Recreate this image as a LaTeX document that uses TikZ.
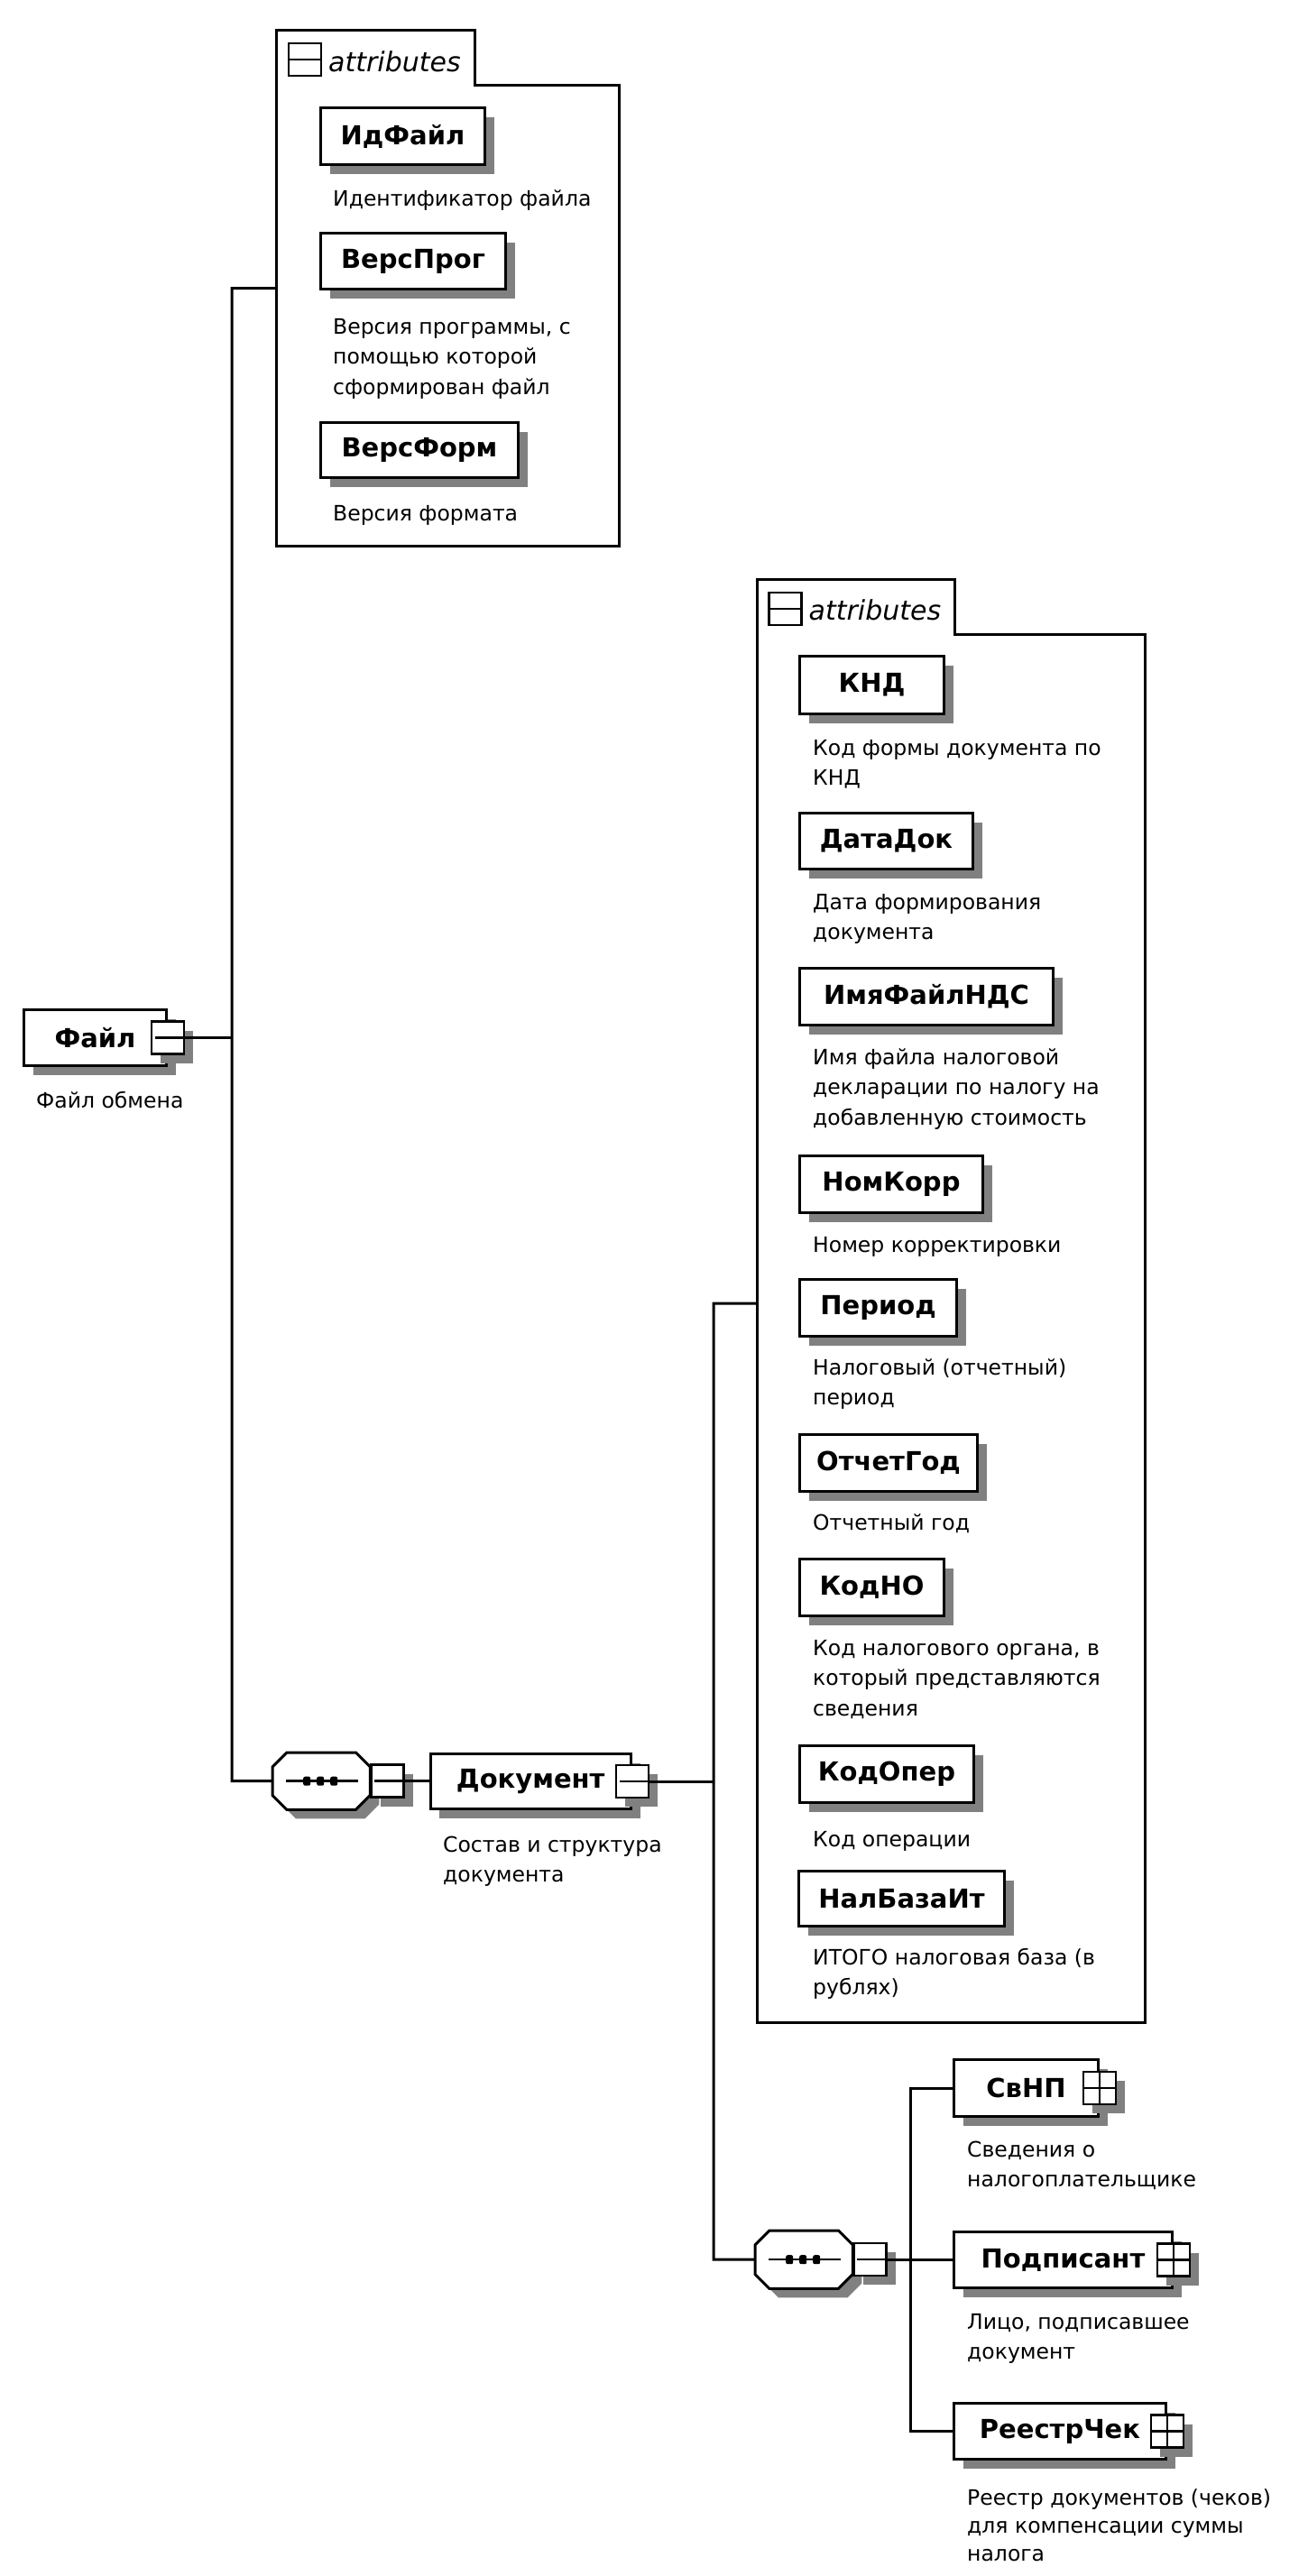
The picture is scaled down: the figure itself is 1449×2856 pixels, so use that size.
\documentclass[tikz,border=0pt]{standalone}
\usepackage{fontspec}
\setmainfont{DejaVu Sans}
\usetikzlibrary{shadows,calc}
\newcommand\nmfont{\fontsize{29}{34}\selectfont\bfseries}
\newcommand\dsfont{\fontsize{23.5}{33.6}\selectfont}
\newcommand\atfont{\fontsize{30}{34}\selectfont\itshape}
\tikzset{
  shad/.style={drop shadow={shadow xshift=10pt,shadow yshift=-10pt,fill=black!50,opacity=1}},
  elem/.style={draw, line width=3pt, fill=white, inner sep=0pt, anchor=north west, shad, font=\nmfont},
  sqbox/.style={draw, line width=2.5pt, fill=white, minimum size=36pt, inner sep=0pt, shad},
  icbox/.style={draw, line width=2.5pt, fill=white, minimum size=36pt, inner sep=0pt},
  desc/.style={anchor=base west, align=left, inner sep=0pt, font=\dsfont},
  conn/.style={line width=3pt},
  grp/.style={draw=none, inner sep=0pt, anchor=north west},
  seqn/.style={draw=none, inner sep=0pt, anchor=north west, minimum width=108pt, minimum height=63pt},
  icl/.style={line width=2.5pt},
}
\begin{document}
\begin{tikzpicture}[x=1pt,y=-1pt]
\useasboundingbox (0,0) rectangle (1449,2856);

% ---------- attributes group 1 ----------
\node[grp, minimum width=380pt, minimum height=511pt] (attr1) at (306,94) {};
\draw[line width=3pt] (attr1.south west) -- ($(attr1.north west)+(0,-60.4)$) -- ++(220,0) -- ++(0,60.4) -- (attr1.north east) -- (attr1.south east) -- cycle;
\node[icbox] (attr1ic) at (338,66) {};
\draw[icl] (attr1ic.west) -- (attr1ic.east);
\node[anchor=base west, inner sep=0pt, font=\atfont] (attr1lb) at (364,79) {attributes};

\node[elem, minimum width=182pt, minimum height=63pt] (idf) at (354,118) {ИдФайл};
\node[desc] (idfd) at (369,228) {Идентификатор файла};
\node[elem, minimum width=205pt, minimum height=62pt] (vprog) at (354,257) {ВерсПрог};
\node[desc] (vprogd) at (369,437.2) {Версия программы, с\\помощью которой\\сформирован файл};
\node[elem, minimum width=219pt, minimum height=61pt] (vform) at (354,467) {ВерсФорм};
\node[desc] (vformd) at (369,577) {Версия формата};

% ---------- root ----------
\node[elem, minimum width=158pt, minimum height=62pt] (fajl) at (25,1118) {Файл\hspace{36pt}};
\node[sqbox] (fajlsq) at (fajl.east) {};
\draw[icl] ([xshift=5pt]fajlsq.west) -- (fajlsq.east);
\node[desc] (fajld) at (40,1228) {Файл обмена};

% ---------- sequence 1 ----------
\node[seqn] (seq1) at (302,1943) {};
\draw[line width=3pt, fill=white, shad] ($(seq1.north west)+(16,0)$) -- ($(seq1.north east)+(-16,0)$) -- ($(seq1.north east)+(0,16)$) -- ($(seq1.south east)+(0,-16)$) -- ($(seq1.south east)+(-16,0)$) -- ($(seq1.south west)+(16,0)$) -- ($(seq1.south west)+(0,-16)$) -- ($(seq1.north west)+(0,16)$) -- cycle;
\draw[icl] ($(seq1.west)+(15,0)$) -- ($(seq1.east)+(-13,0)$);
\foreach \dx in {-16,-1,14} \fill[rounded corners=2pt] ($(seq1.center)+(\dx-4,-5)$) rectangle ++(8,10);
\node[sqbox, anchor=west] (seq1sq) at (seq1.east) {};
\draw[icl] ([xshift=5pt]seq1sq.west) -- (seq1sq.east);

% ---------- Документ ----------
\node[elem, minimum width=222.5pt, minimum height=61pt] (dok) at (475.5,1943) {Документ\hspace{36pt}};
\node[sqbox] (doksq) at (dok.east) {};
\draw[icl] ([xshift=5pt]doksq.west) -- (doksq.east);
\node[desc] (dokd) at (491,2086.6) {Состав и структура\\документа};

% ---------- attributes group 2 ----------
\node[grp, minimum width=429.5pt, minimum height=1538.4pt] (attr2) at (839.5,703.6) {};
\draw[line width=3pt] (attr2.south west) -- ($(attr2.north west)+(0,-61.6)$) -- ++(218.5,0) -- ++(0,61.6) -- (attr2.north east) -- (attr2.south east) -- cycle;
\node[icbox] (attr2ic) at (870.5,675) {};
\draw[icl] (attr2ic.west) -- (attr2ic.east);
\node[anchor=base west, inner sep=0pt, font=\atfont] (attr2lb) at (896.5,687) {attributes};

\node[elem, minimum width=160pt, minimum height=64pt] (knd) at (885,726) {КНД};
\node[desc] (kndd) at (901,870.6) {Код формы документа по\\КНД};
\node[elem, minimum width=192pt, minimum height=62pt] (datadok) at (885,900) {ДатаДок};
\node[desc] (datadokd) at (901,1041.6) {Дата формирования\\документа};
\node[elem, minimum width=281pt, minimum height=63pt] (imya) at (885,1072) {ИмяФайлНДС};
\node[desc] (imyad) at (901,1247.2) {Имя файла налоговой\\декларации по налогу на\\добавленную стоимость};
\node[elem, minimum width=203pt, minimum height=63pt] (nomkorr) at (885,1280) {НомКорр};
\node[desc] (nomkorrd) at (901,1388) {Номер корректировки};
\node[elem, minimum width=174pt, minimum height=63pt] (period) at (885,1417) {Период};
\node[desc] (periodd) at (901,1557.6) {Налоговый (отчетный)\\период};
\node[elem, minimum width=197pt, minimum height=63pt] (otchet) at (885,1589) {ОтчетГод};
\node[desc] (otchetd) at (901,1696) {Отчетный год};
\node[elem, minimum width=160pt, minimum height=63pt] (kodno) at (885,1727) {КодНО};
\node[desc] (kodnod) at (901,1902.2) {Код налогового органа, в\\который представляются\\сведения};
\node[elem, minimum width=193pt, minimum height=63pt] (kodoper) at (885,1934) {КодОпер};
\node[desc] (kodoperd) at (901,2047) {Код операции};
\node[elem, minimum width=228pt, minimum height=61pt] (nalbaza) at (884,2073) {НалБазаИт};
\node[desc] (nalbazad) at (901,2211.6) {ИТОГО налоговая база (в\\рублях)};

% ---------- sequence 2 ----------
\node[seqn, minimum height=64pt] (seq2) at (837,2473) {};
\draw[line width=3pt, fill=white, shad] ($(seq2.north west)+(16,0)$) -- ($(seq2.north east)+(-16,0)$) -- ($(seq2.north east)+(0,16)$) -- ($(seq2.south east)+(0,-16)$) -- ($(seq2.south east)+(-16,0)$) -- ($(seq2.south west)+(16,0)$) -- ($(seq2.south west)+(0,-16)$) -- ($(seq2.north west)+(0,16)$) -- cycle;
\draw[icl] ($(seq2.west)+(15,0)$) -- ($(seq2.east)+(-13,0)$);
\foreach \dx in {-16,-1,14} \fill[rounded corners=2pt] ($(seq2.center)+(\dx-4,-5)$) rectangle ++(8,10);
\node[sqbox, anchor=west] (seq2sq) at (seq2.east) {};
\draw[icl] ([xshift=5pt]seq2sq.west) -- (seq2sq.east);

% ---------- children of sequence 2 ----------
\node[elem, minimum width=160pt, minimum height=63pt] (svnp) at (1056,2282) {СвНП\hspace{36pt}};
\node[sqbox] (svnpsq) at (svnp.east) {};
\draw[icl] (svnpsq.north) -- (svnpsq.south) (svnpsq.west) -- (svnpsq.east);
\node[desc] (svnpd) at (1072,2424.6) {Сведения о\\налогоплательщике};

\node[elem, minimum width=242pt, minimum height=62pt] (podp) at (1056,2473) {Подписант\hspace{36pt}};
\node[sqbox] (podpsq) at (podp.east) {};
\draw[icl] (podpsq.north) -- (podpsq.south) (podpsq.west) -- (podpsq.east);
\node[desc] (podpd) at (1072,2615.6) {Лицо, подписавшее\\документ};

\node[elem, minimum width=235pt, minimum height=62pt] (reestr) at (1056,2663) {РеестрЧек\hspace{36pt}};
\node[sqbox] (reestrsq) at (reestr.east) {};
\draw[icl] (reestrsq.north) -- (reestrsq.south) (reestrsq.west) -- (reestrsq.east);
\node[desc, font=\fontsize{23.5}{31}\selectfont] (reestrd) at (1072,2839) {Реестр документов (чеков)\\для компенсации суммы\\налога};

% ---------- connectors ----------
\coordinate (v1top) at (257,319.5);
\coordinate (v1bot) at (257,1974.5);
\draw[conn] (attr1.west |- v1top) -- (v1top) -- (v1bot) -- (seq1.west);
\draw[conn] (fajlsq.east) -- (fajlsq.east -| v1top);
\draw[conn] (seq1sq.east) -- (dok.west |- seq1sq.east);
\coordinate (v2top) at (791,1445);
\coordinate (v2bot) at (791,2505);
\draw[conn] (doksq.east) -- (doksq.east -| v2top);
\draw[conn] (attr2.west |- v2top) -- (v2top) -- (v2bot) -- (seq2.west);
\coordinate (v3top) at (1009,2313.5);
\draw[conn] (seq2sq.east) -- (seq2sq.east -| v3top);
\draw[conn] (svnp.west) -- (svnp.west -| v3top) -- (reestr.west -| v3top) -- (reestr.west);
\draw[conn] (podp.west) -- (podp.west -| v3top);
\end{tikzpicture}
\end{document}
